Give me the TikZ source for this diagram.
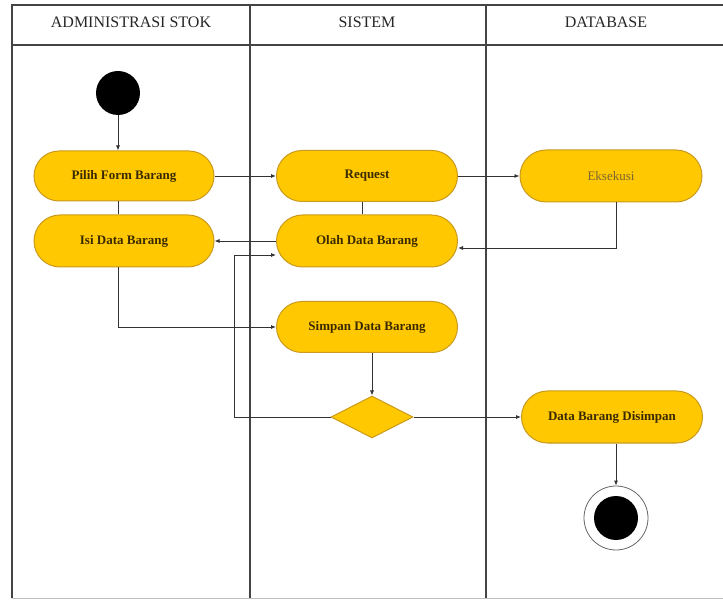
\documentclass[tikz,border=0pt]{standalone}
\usepackage{fontspec}
\setmainfont{Liberation Serif}
\usetikzlibrary{arrows.meta,shapes.geometric,shapes.misc}
\definecolor{actfill}{HTML}{FFC800}
\definecolor{actdraw}{HTML}{C99A1E}
\definecolor{acttext}{HTML}{3A2A00}
\definecolor{dimtext}{HTML}{7A6630}
\definecolor{lanecol}{HTML}{444444}
\definecolor{linecol}{HTML}{333333}
\begin{document}
\begin{tikzpicture}[x=1pt,y=-1pt,
  act/.style={rounded rectangle, draw=actdraw, fill=actfill, line width=1pt,
    minimum width=181pt, minimum height=51pt, inner sep=0pt,
    font=\fontsize{13}{15}\selectfont\bfseries, text=acttext},
  lane/.style={draw=lanecol, line width=1.1pt},
  hdr/.style={font=\fontsize{16}{18}\selectfont, text=black!85},
  ln/.style={draw=linecol, line width=0.8pt},
  arr/.style={ln, -{Latex[length=5pt,width=4pt]}}
]
\useasboundingbox (0,0) rectangle (723,601);
% swimlanes
\draw[lane] (12,598) -- (12,5) -- (723,5);
\draw[lane] (12,45) -- (723,45);
\draw[lane] (250,5) -- (250,598);
\draw[lane] (486,5) -- (486,598);
\draw[draw=black!25, line width=1pt] (12,598) -- (723,598);
\node[hdr] (h1) at (131,22) {ADMINISTRASI STOK};
\node[hdr] (h2) at (367,22) {SISTEM};
\node[hdr] (h3) at (606,22) {DATABASE};
% nodes
\node[circle, fill=black, minimum size=44pt, inner sep=0pt] (start) at (118,93) {};
\node[act, minimum width=180pt, minimum height=50pt] (pilih) at (124,176) {Pilih Form Barang};
\node[act, minimum width=180pt, minimum height=52pt] (isi) at (124,241) {Isi Data Barang};
\node[act] (request) at (367,176) {Request};
\node[act, minimum height=52pt] (olah) at (367,241) {Olah Data Barang};
\node[act, minimum width=182pt, minimum height=52pt, font=\fontsize{13}{15}\selectfont, text=dimtext] (eks) at (611,176) {Eksekusi};
\node[act] (simpan) at (367,327) {Simpan Data Barang};
\node[diamond, draw=actdraw, fill=actfill, line width=1pt, minimum width=82pt, minimum height=42pt, inner sep=0pt] (dia) at (372,417) {};
\node[act, minimum height=52pt] (dbd) at (612,417) {Data Barang Disimpan};
\node[circle, draw=black!60, line width=0.8pt, fill=white, minimum size=64pt, inner sep=0pt] (endo) at (616,518) {};
\node[circle, fill=black, minimum size=44pt, inner sep=0pt] (endi) at (616,518) {};
\coordinate (lp) at (234,417);
% connectors
\draw[arr] (start) -- (start |- pilih.north);
\draw[ln] (start |- pilih.south) -- (start |- isi.north);
\draw[arr] (pilih.east) -- (request.west);
\draw[ln] ([xshift=-5pt]request.south) -- ([xshift=-5pt]olah.north);
\draw[arr] (request.east) -- (eks.west);
\draw[arr] ([xshift=5pt]eks.south) |- ([yshift=-7pt]olah.east);
\draw[arr] (olah.west) -- (isi.east);
\draw[arr] (start |- isi.south) |- (simpan.west);
\draw[arr] (dia |- simpan.south) -- (dia.north);
\draw[arr] (dia.east) -- (dia.east -| dbd.west);
\draw[arr] (dia.west) -- (lp) |- ([yshift=-14pt]olah.west);
\draw[arr] (endo |- dbd.south) -- (endo.north);
\end{tikzpicture}
\end{document}
